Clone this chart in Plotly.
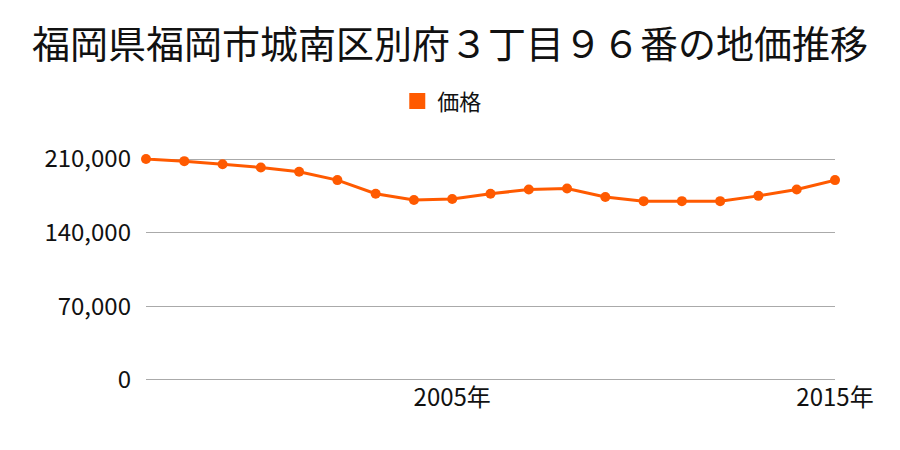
import plotly.graph_objects as go

years = list(range(1997, 2016))
prices = [210000, 208000, 205000, 202000, 198000, 190000, 177000, 171000, 172000,
          177000, 181000, 182000, 174000, 170000, 170000, 170000, 175000, 181000, 190000]
y_ticks = [0, 70000, 140000, 210000]
y_tick_labels = ["0", "70,000", "140,000", "210,000"]
x_ticks = [2005, 2015]
x_tick_labels = ["2005年", "2015年"]

font = "Noto Sans CJK JP, Noto Sans, sans-serif"
color = "#ff5a00"

fig = go.Figure()
fig.add_trace(go.Scatter(
    x=years, y=prices, mode="lines+markers", name="価格",
    line=dict(color=color, width=3),
    marker=dict(color=color, size=10),
    cliponaxis=False, showlegend=False,
))
fig.add_trace(go.Scatter(
    x=[None], y=[None], mode="markers", name="価格",
    marker=dict(color=color, size=20, symbol="square"),
    showlegend=True,
))

fig.update_layout(
    width=900, height=450,
    margin=dict(l=146, r=65, t=158, b=69),
    paper_bgcolor="white", plot_bgcolor="white",
    font=dict(family=font, color="#111111", size=24),
    title=dict(text="福岡県福岡市城南区別府３丁目９６番の地価推移",
               x=0.5, xanchor="center", y=0.9, yanchor="middle",
               font=dict(size=38, family=font, color="#111111")),
    showlegend=True,
    legend=dict(orientation="h", x=0.43, xanchor="center", y=1.255, yanchor="middle",
                font=dict(size=22, family=font), itemsizing="trace",
                itemwidth=30),
    xaxis=dict(range=[1997, 2015], tickmode="array", tickvals=x_ticks,
               ticktext=x_tick_labels, showgrid=False, zeroline=False,
               showline=False, ticks="", tickfont=dict(size=24)),
    yaxis=dict(range=[-1000, 211000], tickmode="array", tickvals=y_ticks,
               ticktext=y_tick_labels, showgrid=True, gridcolor="#aaaaaa",
               gridwidth=1, zeroline=False, showline=False, ticks="",
               ticklabelstandoff=14, tickfont=dict(size=24)),
)

fig.write_html("out.html")
